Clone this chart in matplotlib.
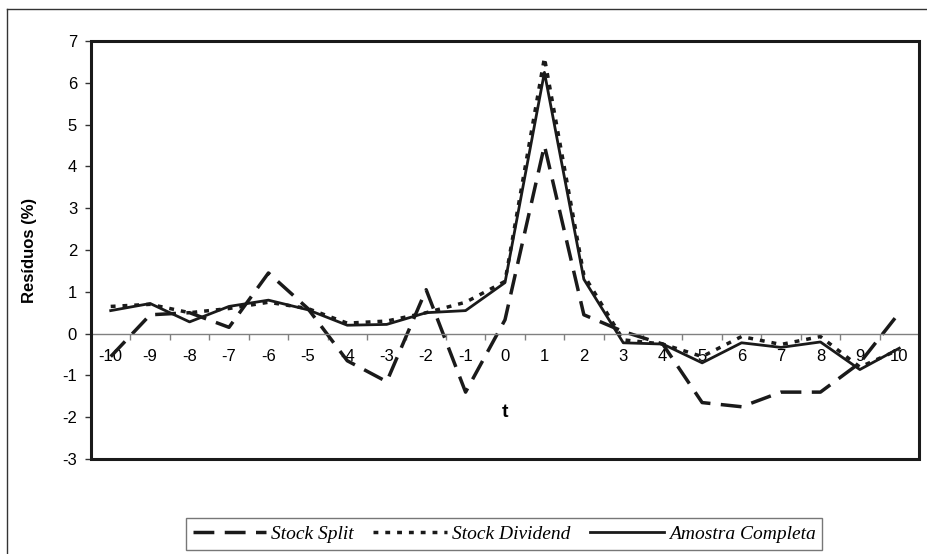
import matplotlib
matplotlib.use('Agg')
from matplotlib import pyplot as plt
from matplotlib.patches import Rectangle
from matplotlib.lines import Line2D

# event window
t = list(range(-10, 11))

# residuals (%)
stock_split = [-0.55, 0.45, 0.5, 0.15, 1.45, 0.6, -0.65, -1.15, 1.05, -1.4, 0.33,
               4.5, 0.45, 0.05, -0.25, -1.65, -1.75, -1.4, -1.4, -0.7, 0.5]
stock_dividend = [0.65, 0.7, 0.5, 0.6, 0.75, 0.6, 0.25, 0.3, 0.5, 0.75, 1.25,
                  6.6, 1.4, -0.15, -0.25, -0.55, -0.07, -0.26, -0.07, -0.8, -0.38]
amostra = [0.55, 0.72, 0.28, 0.65, 0.8, 0.57, 0.2, 0.22, 0.5, 0.55, 1.22,
           6.25, 1.3, -0.22, -0.25, -0.7, -0.22, -0.33, -0.2, -0.86, -0.35]

y_ticks = list(range(-3, 8))

sans = 'Liberation Sans'
serif = 'Liberation Serif'

fig = plt.figure(figsize=(9.27, 5.54), dpi=100)
ax = fig.add_axes([91/927, 1 - 459/554, 828/927, 418/554])

ax.plot(t, stock_split, color='#1a1a1a', lw=2.5, linestyle=(0, (6, 3)),
        dash_capstyle='butt', label='Stock Split')
ax.plot(t, stock_dividend, color='#1a1a1a', lw=2.5, linestyle=(0, (1.4, 2)),
        dash_capstyle='butt', label='Stock Dividend')
ax.plot(t, amostra, color='#1a1a1a', lw=2.0, label='Amostra Completa')

ax.set_xlim(-10.5, 10.5)
ax.set_ylim(-3, 7)

# x axis crosses at zero, ticks between categories
for s in ['top', 'right', 'left']:
    ax.spines[s].set_visible(False)
ax.spines['bottom'].set_position(('data', 0))
ax.spines['bottom'].set_color('#808080')
ax.spines['bottom'].set_linewidth(1.0)

ax.set_xticks([x - 0.5 for x in t] + [10.5])
ax.set_xticklabels([])
ax.set_xticks(t, minor=True)
ax.set_xticklabels([str(x) for x in t], minor=True, fontfamily=sans, fontsize=12)
ax.tick_params(axis='x', which='major', direction='out', length=4, color='#808080', width=1)
ax.tick_params(axis='x', which='minor', length=0, pad=11)

ax.set_yticks(y_ticks)
ax.set_yticklabels([str(v) for v in y_ticks], fontfamily=sans, fontsize=12)
ax.tick_params(axis='y', direction='out', length=4, width=1, pad=6, color='#333333')

# heavy plot frame
ax.add_patch(Rectangle((0, 0), 1, 1, transform=ax.transAxes, fill=False,
                       lw=2.2, edgecolor='#1a1a1a', clip_on=False, zorder=5))

ax.set_ylabel('Resíduos (%)', fontfamily=sans, fontsize=12, fontweight='bold')
ax.yaxis.set_label_coords(-0.065, 0.5)
ax.text(0.5, 0.112, 't', transform=ax.transAxes, ha='center', va='center',
        fontfamily=sans, fontsize=14, fontweight='bold')

leg = fig.legend(loc='center', bbox_to_anchor=(504/927, 1 - 534/554), ncol=3,
                 frameon=True, fancybox=False, edgecolor='#555555',
                 prop={'family': serif, 'style': 'italic', 'size': 14},
                 handlelength=3.8, handletextpad=0.25, columnspacing=1.0,
                 borderpad=0.35)
leg.get_frame().set_linewidth(1.0)

# outer chart border (left and top visible)
fig.add_artist(Line2D([7/927, 7/927], [0, 1 - 9/554], transform=fig.transFigure,
                      color='#333333', lw=1.0))
fig.add_artist(Line2D([7/927, 1], [1 - 9/554, 1 - 9/554], transform=fig.transFigure,
                      color='#333333', lw=1.0))

fig.savefig('out.png', dpi=100)
